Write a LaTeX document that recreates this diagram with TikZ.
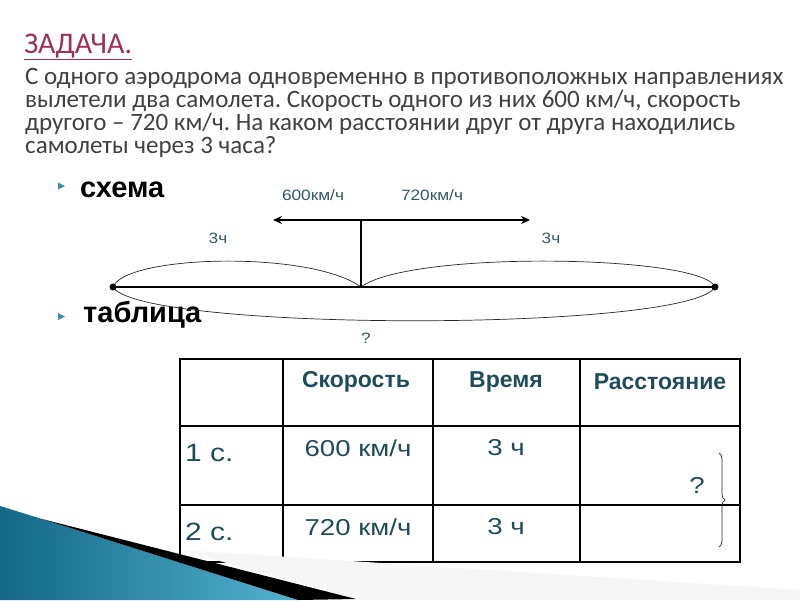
\documentclass[tikz,border=0pt]{standalone}
\usepackage{fontspec}
\setmainfont{Carlito}
\newfontfamily\arialfont{Liberation Sans}
\newfontfamily\labelfont[FakeStretch=1.15]{Liberation Sans}
\newfontfamily\cellfont[FakeStretch=1.2]{Liberation Sans}
\usetikzlibrary{decorations.pathreplacing, arrows.meta}
\definecolor{titlered}{RGB}{158,48,80}
\definecolor{bodygray}{RGB}{64,64,64}
\definecolor{tealtext}{RGB}{30,76,90}
\definecolor{labelteal}{RGB}{46,88,100}
\definecolor{bulletblue}{RGB}{60,140,175}
\definecolor{swooshdark}{RGB}{18,104,134}
\definecolor{swooshlight}{RGB}{84,178,208}
\frenchspacing
\tikzset{
    normal/.style={draw, semithick},
    body/.style={anchor=base west, inner sep=0, text=bodygray, font=\fontsize{25}{25}\selectfont},
    bullettext/.style={anchor=base west, inner sep=0, font=\arialfont\bfseries\fontsize{29}{29}\selectfont},
    lbl/.style={inner sep=0, text=labelteal, font=\labelfont\fontsize{15}{15}\selectfont},
    headcell/.style={inner sep=0, text=tealtext, font=\arialfont\bfseries\fontsize{23}{23}\selectfont},
    bodycell/.style={inner sep=0, text=tealtext, font=\cellfont\fontsize{23}{23}\selectfont},
    rowcell/.style={style=bodycell, anchor=west, font=\cellfont\fontsize{25}{25}\selectfont},
    axisline/.style={draw, line width=2.5pt},
    curve/.style={draw, line width=0.7pt, black!85},
    marker/.style={fill=bulletblue},
    thin rule/.style={line width=1.2pt},
    thick rule/.style={line width=2.5pt}
}

\begin{document}
\begin{tikzpicture}[x=1pt, y=-1pt]
        \useasboundingbox (0, 0) rectangle (800, 600);

        % task text
        \node[body, text=titlered, font=\fontsize{30}{30}\selectfont] (title) at (24, 53) {\underline{ЗАДАЧА.}};
        \node[body] (line1) at (25, 84) {С одного аэродрома одновременно в противоположных направлениях};
        \node[body] (line2) at (25, 107) {вылетели два самолета. Скорость одного из них 600 км/ч, скорость};
        \node[body] (line3) at (25, 130) {другого – 720 км/ч. На каком расстоянии друг от друга находились};
        \node[body] (line4) at (25, 153) {самолеты через 3 часа?};

        % bullets
        \path[marker] (58, 182.5) -- (58, 189.5) -- (65, 186) -- cycle;
        \path[marker] (58, 313) -- (58, 320) -- (65, 316.5) -- cycle;
        \node[bullettext] (schema) at (80, 197) {схема};
        \node[bullettext] (tablitsa) at (83, 322) {таблица};

        % scheme
        \coordinate (start) at (113, 287);
        \coordinate (airport) at (361, 287);
        \coordinate (finish) at (715, 287);
        \coordinate (top) at (361, 220);
        \coordinate (west) at (273, 220);
        \coordinate (east) at (530, 220);
        \draw[curve] (start) .. controls (125, 255) and (310, 250) .. (airport);
        \draw[curve] (airport) .. controls (410, 250) and (703, 255) .. (finish);
        \draw[curve] (start) .. controls (140, 332) and (690, 332) .. (finish);
        \draw[axisline] (start) -- (finish);
        \fill (start) circle (3.5pt);
        \fill (finish) circle (3.5pt);
        \draw[line width=2pt] (top) -- (airport);
        \draw[line width=2.5pt, {Stealth[length=9pt, width=8pt]}-{Stealth[length=9pt, width=8pt]}] (west) -- (east);
        \node[lbl] (speed1) at (313, 195) {600км/ч};
        \node[lbl] (speed2) at (432, 195) {720км/ч};
        \node[lbl] (time1) at (218, 238) {3ч};
        \node[lbl] (time2) at (551, 238) {3ч};
        \node[lbl] (total) at (366, 338) {?};

        % table
        \draw[thin rule] (180, 426) -- (740, 426);
        \draw[thin rule] (180, 505) -- (740, 505);
        \draw[thin rule] (433, 359) -- (433, 562);
        \draw[line width=1.8pt] (283, 359) -- (283, 562);
        \draw[thick rule] (580, 359) -- (580, 562);
        \draw[thick rule] (180, 359) rectangle (740, 562);
        \node[headcell] (h speed) at (356, 382) {Скорость};
        \node[headcell] (h time) at (506, 382) {Время};
        \node[headcell] (h dist) at (660, 382) {Расстояние};
        \node[rowcell] (p1) at (185, 453) {1 с.};
        \node[bodycell] (v1) at (358, 448) {600 км/ч};
        \node[bodycell] (t1) at (506, 448) {3 ч};
        \node[rowcell] (p2) at (185, 532) {2 с.};
        \node[bodycell] (v2) at (358, 527) {720 км/ч};
        \node[bodycell] (t2) at (506, 527) {3 ч};
        \node[bodycell] (d) at (697, 485) {?};
        \coordinate (brace top) at (719, 453);
        \coordinate (brace bottom) at (719, 547);
        \draw[curve, decorate, decoration={brace, amplitude=6pt}] (brace top) -- (brace bottom);

        % corner swoosh
        \coordinate (sw edge) at (0, 506);
        \coordinate (sw bend) at (42, 519);
        \coordinate (sw foot) at (298, 600);
        \coordinate (sw tip) at (356, 599);
        \fill[gray!7] (180, 550) -- (800, 590) -- (800, 600) -- (360, 600) -- cycle;
        \shade[left color=swooshdark, right color=swooshlight] (sw edge) -- (sw bend) -- (sw foot) -- (0, 600) -- cycle;
        \fill[black] (sw bend) -- (sw foot) -- (sw tip) -- cycle;
\end{tikzpicture}
\end{document}
